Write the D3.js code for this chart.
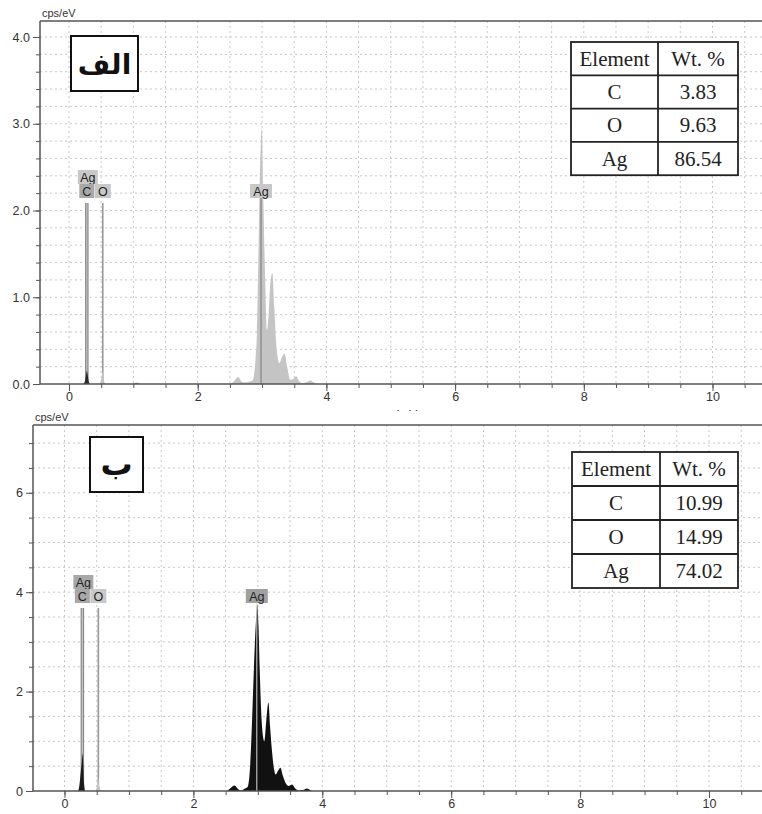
<!DOCTYPE html>
<html lang="en">
<head>
<meta charset="UTF-8">
<title>EDX spectra</title>
<style>
  body { margin: 0; background: #fff; }
  svg { display: block; font-family: "Liberation Sans", Arial, sans-serif; }
</style>
</head>
<body>
<svg></svg>
<script src="https://cdn.jsdelivr.net/npm/d3@7/dist/d3.min.js"></script>
<script>
var width = 762, height = 814

// element markers (keV)
var elements = ["C", "O", "Ag"]
var lineEnergy = [0.277, 0.525, 2.984]

// weight % tables
var tableHead = ["Element", "Wt. %"]
var wtTop = ["3.83", "9.63", "86.54"]
var wtBottom = ["10.99", "14.99", "74.02"]

// axis ticks
var xTicks = [0, 2, 4, 6, 8, 10]
var xMinor = d3.range(0, 10.51, 0.5)
var topYTicks = [0, 1, 2, 3, 4]
var topYMinor = d3.range(0, 4.01, 0.2)
var botYTicks = [0, 2, 4, 6]
var botYMinor = d3.range(0, 7.01, 0.5)

// spectrum (a)  [keV, cps/eV]
var topC = [[0.22, 0], [0.25, 0.04], [0.265, 0.11], [0.277, 0.15], [0.29, 0.11], [0.31, 0.02], [0.33, 0]]
var topO = [[0.47, 0], [0.50, 0.05], [0.52, 0.14], [0.54, 0.05], [0.57, 0]]
var topBump = [[0.98, 0], [1.05, 0.015], [1.12, 0]]
var topAg = [[2.50, 0], [2.56, 0.03], [2.63, 0.08], [2.68, 0.03], [2.72, 0.02], [2.81, 0.03], [2.86, 0.05],
  [2.90, 0.3], [2.92, 0.58], [2.95, 1.74], [2.97, 2.51], [2.997, 2.95], [3.02, 2.12], [3.05, 1.16],
  [3.075, 0.62], [3.10, 0.78], [3.125, 1.12], [3.16, 1.28], [3.19, 0.89], [3.22, 0.47], [3.27, 0.24],
  [3.31, 0.31], [3.35, 0.35], [3.39, 0.2], [3.44, 0.05], [3.49, 0.06], [3.53, 0.09], [3.57, 0.04],
  [3.62, 0.01], [3.69, 0.02], [3.75, 0.04], [3.80, 0.02], [3.85, 0]]

// spectrum (b)
var botC = [[0.21, 0], [0.23, 0.1], [0.25, 0.35], [0.27, 0.6], [0.28, 0.75], [0.29, 0.55], [0.30, 0.2], [0.32, 0]]
var botO = [[0.48, 0], [0.50, 0.08], [0.52, 0.27], [0.54, 0.1], [0.56, 0]]
var botAg = [[2.52, 0], [2.57, 0.05], [2.64, 0.11], [2.69, 0.04], [2.74, 0.01], [2.80, 0.05], [2.84, 0.08],
  [2.88, 0.5], [2.91, 1.4], [2.94, 2.5], [2.97, 3.4], [2.99, 3.76], [3.01, 3.3], [3.03, 2.4], [3.06, 1.4],
  [3.08, 1.1], [3.10, 1.0], [3.13, 1.4], [3.165, 1.78], [3.19, 1.3], [3.22, 0.8], [3.25, 0.45], [3.28, 0.33],
  [3.31, 0.4], [3.35, 0.47], [3.39, 0.3], [3.43, 0.16], [3.48, 0.1], [3.53, 0.13], [3.58, 0.05], [3.63, 0.01],
  [3.70, 0.02], [3.76, 0.05], [3.81, 0.02], [3.85, 0]]

var svg = d3.select("svg").attr("width", width).attr("height", height)
svg.append("rect").attr("width", width).attr("height", height).attr("fill", "#fff")

function panel(o) {
  var g = svg.append("g")
  g.append("rect").attr("x", 0).attr("y", o.bgTop).attr("width", width).attr("height", o.bgBottom - o.bgTop).attr("fill", "#fff")

  var x = d3.scaleLinear().domain([0, 10]).range([o.x0, o.x10])
  var y = d3.scaleLinear().domain([0, 1]).range([o.base, o.base - o.perUnit])

  // grid
  g.append("g").selectAll("line").data(o.yMinor.filter(d => d > 0)).join("line")
    .attr("x1", o.left).attr("x2", width).attr("y1", d => y(d)).attr("y2", d => y(d))
    .attr("stroke", "#c8c8c8").attr("stroke-dasharray", "2,3")
  g.append("g").selectAll("line").data(xMinor).join("line")
    .attr("x1", d => x(d)).attr("x2", d => x(d)).attr("y1", o.top).attr("y2", o.base)
    .attr("stroke", "#c8c8c8").attr("stroke-dasharray", "2,3")

  var area = d3.area().x(d => x(d[0])).y0(y(0)).y1(d => y(d[1])).curve(d3.curveMonotoneX)

  // element marker lines
  var markTop = o.markTop
  g.append("line").attr("x1", x(lineEnergy[0])).attr("x2", x(lineEnergy[0]))
    .attr("y1", markTop).attr("y2", o.base).attr("stroke", "#888").attr("stroke-width", 3.5)
  g.append("line").attr("x1", x(lineEnergy[0])).attr("x2", x(lineEnergy[0]))
    .attr("y1", markTop).attr("y2", o.base).attr("stroke", "#c4c4c4").attr("stroke-width", 1.2)
  g.append("line").attr("x1", x(lineEnergy[1])).attr("x2", x(lineEnergy[1]))
    .attr("y1", markTop).attr("y2", o.base).attr("stroke", "#999").attr("stroke-width", 1.6)

  // spectrum
  g.append("path").datum(o.spC).attr("d", area).attr("fill", o.cFill)
  g.append("path").datum(o.spO).attr("d", area).attr("fill", "#c4c4c4")
  if (o.spBump) g.append("path").datum(o.spBump).attr("d", area).attr("fill", "#999")
  g.append("path").datum(o.spAg).attr("d", area).attr("fill", o.agFill)

  // Ag marker line through the main peak
  g.append("line").attr("x1", x(lineEnergy[2])).attr("x2", x(lineEnergy[2]))
    .attr("y1", o.agLabelY + 14).attr("y2", o.base).attr("stroke", o.agLine).attr("stroke-width", 1)

  // label boxes
  function tag(cx, ty, w, txt, fill) {
    g.append("rect").attr("x", cx - w / 2).attr("y", ty).attr("width", w).attr("height", 14).attr("fill", fill)
    g.append("text").attr("x", cx).attr("y", ty + 11.5).attr("text-anchor", "middle")
      .attr("font-size", 12.5).attr("fill", "#222").text(txt)
  }
  var cx = x(lineEnergy[0]), ox = x(lineEnergy[1])
  tag(cx + 1, markTop - 33, 20, elements[2], o.agTagUp)
  tag(cx, markTop - 19, 15, elements[0], o.cTag)
  tag(ox, markTop - 19, 16, elements[1], "#c8c8c8")
  tag(x(lineEnergy[2]), o.agLabelY, 22, elements[2], o.agTag)

  // axes
  var xAxisMinor = d3.axisBottom(x).tickValues(xMinor).tickSize(4).tickSizeOuter(0).tickFormat("")
  var xAxisMajor = d3.axisBottom(x).tickValues(xTicks).tickSize(7).tickSizeOuter(0).tickFormat(d3.format("d"))
  var gx1 = g.append("g").attr("transform", "translate(0," + o.base + ")").call(xAxisMinor)
  gx1.select(".domain").remove()
  var gx2 = g.append("g").attr("transform", "translate(0," + o.base + ")").call(xAxisMajor)
  gx2.select(".domain").remove()
  g.append("line").attr("x1", o.left).attr("x2", width).attr("y1", o.base).attr("y2", o.base)
    .attr("stroke", "#555").attr("stroke-width", 1.5)
  g.append("line").attr("x1", o.left).attr("x2", width).attr("y1", o.top).attr("y2", o.top)
    .attr("stroke", "#555").attr("stroke-width", 1.5)

  var yAxisMinor = d3.axisLeft(y).tickValues(o.yMinor).tickSize(4).tickSizeOuter(0).tickFormat("")
  var yAxisMajor = d3.axisLeft(y).tickValues(o.yTicks).tickSize(7).tickSizeOuter(0).tickFormat(d3.format(o.yFmt))
  var gy1 = g.append("g").attr("transform", "translate(" + o.left + ",0)").call(yAxisMinor)
  gy1.select(".domain").remove()
  var gy2 = g.append("g").attr("transform", "translate(" + o.left + ",0)").call(yAxisMajor)
  gy2.select(".domain").remove()
  g.append("line").attr("x1", o.left).attr("x2", o.left).attr("y1", o.top).attr("y2", o.base)
    .attr("stroke", "#555").attr("stroke-width", 1.5)

  g.selectAll(".tick line").attr("stroke", "#555")
  g.selectAll(".tick text").attr("fill", "#333").attr("font-size", 12.5)
    .attr("font-family", "'Liberation Sans', Arial, sans-serif")
  gx2.selectAll(".tick text").attr("y", 8)

  g.append("text").attr("x", o.left + 2).attr("y", o.top - 4).attr("font-size", 11).attr("fill", "#333").text("cps/eV")

  // weight table
  var t = o.table
  var rows = [tableHead].concat(elements.map((e, i) => [e, o.wt[i]]))
  var tg = g.append("g")
  tg.append("rect").attr("x", t.x).attr("y", t.y).attr("width", t.w).attr("height", t.rh * 4)
    .attr("fill", "#fff").attr("stroke", "#222").attr("stroke-width", 1.8)
  tg.append("line").attr("x1", t.x + t.c1).attr("x2", t.x + t.c1).attr("y1", t.y).attr("y2", t.y + t.rh * 4)
    .attr("stroke", "#222").attr("stroke-width", 1.8)
  tg.selectAll("line.r").data([1, 2, 3]).join("line").attr("class", "r")
    .attr("x1", t.x).attr("x2", t.x + t.w).attr("y1", d => t.y + d * t.rh).attr("y2", d => t.y + d * t.rh)
    .attr("stroke", "#222").attr("stroke-width", 1.8)
  rows.forEach(function (r, i) {
    tg.append("text").attr("x", t.x + t.c1 / 2).attr("y", t.y + i * t.rh + t.rh / 2 + 7)
      .attr("text-anchor", "middle").attr("font-family", "'Liberation Serif', 'Times New Roman', serif")
      .attr("font-size", 21).attr("fill", "#222").text(r[0])
    tg.append("text").attr("x", t.x + t.c1 + (t.w - t.c1) / 2).attr("y", t.y + i * t.rh + t.rh / 2 + 7)
      .attr("text-anchor", "middle").attr("font-family", "'Liberation Serif', 'Times New Roman', serif")
      .attr("font-size", 21).attr("fill", "#222").text(r[1])
  })

  // panel letter
  var b = o.letterBox
  g.append("rect").attr("x", b.x).attr("y", b.y).attr("width", b.w).attr("height", b.h)
    .attr("fill", "#fff").attr("stroke", "#111").attr("stroke-width", 2)
  g.append("text").attr("x", b.x + b.w / 2).attr("y", b.y + b.h / 2 + 10).attr("text-anchor", "middle")
    .attr("font-family", "'DejaVu Sans', 'Noto Sans', sans-serif").attr("font-weight", "bold")
    .attr("font-size", o.letterSize).attr("fill", "#111").text(o.letter)
}

// top panel
panel({
  bgTop: 0, bgBottom: 410, left: 40, top: 21, base: 384, perUnit: 86.75, x0: 69, x10: 712.5,
  yTicks: topYTicks, yMinor: topYMinor, yFmt: ".1f", markTop: 203, agLabelY: 184,
  spC: topC, spO: topO, spBump: topBump, spAg: topAg,
  cFill: "#2a2a2a", agFill: "#c4c4c4", agLine: "#777",
  agTagUp: "#c8c8c8", cTag: "#a8a8a8", agTag: "#c8c8c8",
  wt: wtTop, table: { x: 571, y: 42, w: 167, c1: 87, rh: 33.3 },
  letter: "الف", letterSize: 28, letterBox: { x: 71, y: 36, w: 67, h: 55 }
})

// keV label, mostly hidden under lower panel
svg.append("text").attr("x", 407).attr("y", 419).attr("text-anchor", "middle")
  .attr("font-size", 12).attr("fill", "#333").text("keV")

// bottom panel
panel({
  bgTop: 411, bgBottom: 814, left: 33, top: 425, base: 791, perUnit: 49.7, x0: 64.5, x10: 709,
  yTicks: botYTicks, yMinor: botYMinor, yFmt: "d", markTop: 608, agLabelY: 589,
  spC: botC, spO: botO, spBump: null, spAg: botAg,
  cFill: "#1a1a1a", agFill: "#111", agLine: "#ddd",
  agTagUp: "#a8a8a8", cTag: "#a8a8a8", agTag: "#a0a0a0",
  wt: wtBottom, table: { x: 572, y: 452, w: 166, c1: 88, rh: 34 },
  letter: "ب", letterSize: 32, letterBox: { x: 90, y: 437, w: 53, h: 55 }
})
</script>
</body>
</html>
